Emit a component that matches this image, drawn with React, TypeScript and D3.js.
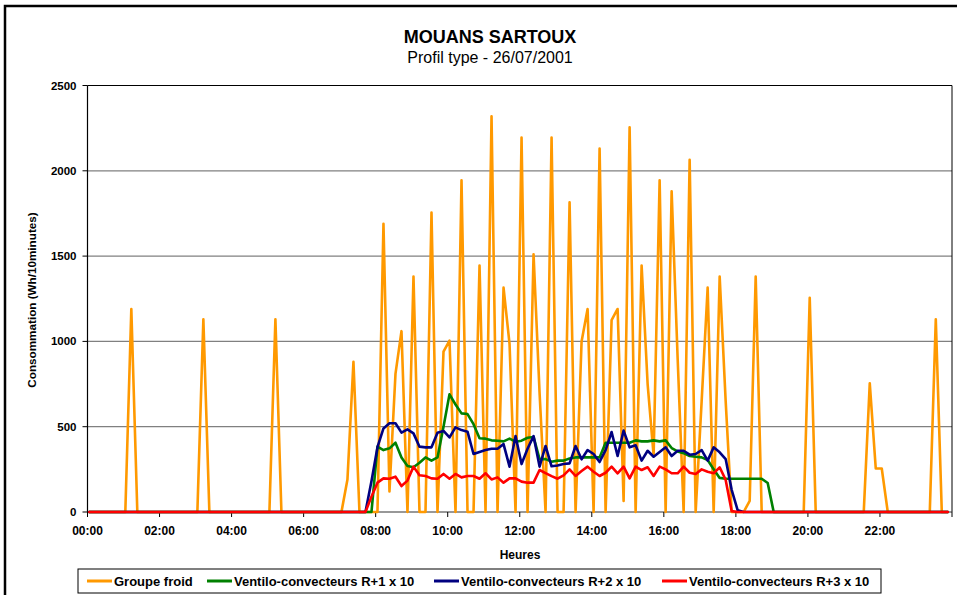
import * as d3 from 'd3';

// 10-minute samples, 144 per day (one row = 2 hours)
const groupeFroid = [
  0, 0, 0, 0, 0, 0, 0, 1190, 0, 0, 0, 0,
  0, 0, 0, 0, 0, 0, 0, 1130, 0, 0, 0, 0,
  0, 0, 0, 0, 0, 0, 0, 1130, 0, 0, 0, 0,
  0, 0, 0, 0, 0, 0, 0, 190, 880, 0, 0, 0,
  0, 1690, 120, 810, 1060, 0, 1380, 0, 0, 1755, 0, 940,
  1005, 0, 1945, 0, 0, 1445, 0, 2320, 0, 1315, 985, 0,
  2195, 0, 1510, 700, 0, 2195, 0, 0, 1815, 0, 1000, 1190,
  0, 2130, 0, 1125, 1190, 65, 2255, 0, 1445, 750, 330, 1945,
  0, 1880, 900, 0, 2065, 0, 650, 1315, 0, 1380, 650, 0,
  0, 0, 65, 1380, 0, 0, 0, 0, 0, 0, 0, 0,
  1255, 0, 0, 0, 0, 0, 0, 0, 0, 0, 755, 255,
  255, 0, 0, 0, 0, 0, 0, 0, 0, 1130, 0, 0,
];

const ventiloR1 = [
  0, 0, 0, 0, 0, 0, 0, 0, 0, 0, 0, 0,
  0, 0, 0, 0, 0, 0, 0, 0, 0, 0, 0, 0,
  0, 0, 0, 0, 0, 0, 0, 0, 0, 0, 0, 0,
  0, 0, 0, 0, 0, 0, 0, 0, 0, 0, 0, 0,
  383, 363, 373, 406, 320, 270, 262, 289, 320, 301, 320, 500,
  690, 630, 578, 574, 515, 432, 430, 420, 418, 414, 430, 412,
  418, 435, 440, 310, 310, 295, 301, 301, 314, 320, 320, 320,
  320, 320, 406, 406, 406, 406, 406, 420, 414, 414, 420, 414,
  420, 375, 355, 345, 328, 324, 320, 305, 250, 200, 195, 195,
  195, 195, 195, 195, 195, 170, 0, 0, 0, 0, 0, 0,
  0, 0, 0, 0, 0, 0, 0, 0, 0, 0, 0, 0,
  0, 0, 0, 0, 0, 0, 0, 0, 0, 0, 0, 0,
];

const ventiloR2 = [
  0, 0, 0, 0, 0, 0, 0, 0, 0, 0, 0, 0,
  0, 0, 0, 0, 0, 0, 0, 0, 0, 0, 0, 0,
  0, 0, 0, 0, 0, 0, 0, 0, 0, 0, 0, 0,
  0, 0, 0, 0, 0, 0, 0, 0, 0, 0, 0, 180,
  380, 490, 520, 520, 465, 484, 461, 383, 379, 379, 465, 475,
  437, 496, 480, 471, 340, 352, 363, 371, 371, 398, 266, 445,
  281, 371, 445, 266, 387, 268, 273, 281, 285, 387, 309, 363,
  340, 293, 363, 469, 328, 477, 379, 391, 301, 359, 324, 352,
  379, 328, 359, 359, 336, 340, 363, 301, 379, 350, 310, 130,
  10, 0, 0, 0, 0, 0, 0, 0, 0, 0, 0, 0,
  0, 0, 0, 0, 0, 0, 0, 0, 0, 0, 0, 0,
  0, 0, 0, 0, 0, 0, 0, 0, 0, 0, 0, 0,
];

const ventiloR3 = [
  0, 0, 0, 0, 0, 0, 0, 0, 0, 0, 0, 0,
  0, 0, 0, 0, 0, 0, 0, 0, 0, 0, 0, 0,
  0, 0, 0, 0, 0, 0, 0, 0, 0, 0, 0, 0,
  0, 0, 0, 0, 0, 0, 0, 0, 0, 0, 0, 90,
  172, 197, 195, 207, 152, 184, 266, 215, 211, 197, 195, 223,
  195, 223, 203, 211, 211, 195, 227, 191, 203, 172, 197, 197,
  178, 172, 172, 246, 228, 210, 195, 215, 250, 211, 240, 266,
  236, 211, 230, 266, 227, 266, 197, 266, 246, 262, 211, 266,
  250, 227, 227, 266, 230, 223, 250, 236, 227, 262, 188, 5,
  0, 0, 0, 0, 0, 0, 0, 0, 0, 0, 0, 0,
  0, 0, 0, 0, 0, 0, 0, 0, 0, 0, 0, 0,
  0, 0, 0, 0, 0, 0, 0, 0, 0, 0, 0, 0,
];

const seriesNames = [
  'Groupe froid',
  'Ventilo-convecteurs R+1 x 10',
  'Ventilo-convecteurs R+2 x 10',
  'Ventilo-convecteurs R+3 x 10',
];
const seriesColors = ['#FF9900', '#008000', '#000080', '#FF0000'];
const yTicks = [0, 500, 1000, 1500, 2000, 2500];
const xTickLabels = ['00:00', '02:00', '04:00', '06:00', '08:00', '10:00', '12:00', '14:00', '16:00', '18:00', '20:00', '22:00'];

// sample i is logged at i*10 min, plus a small offset seen in the plot
const SAMPLE_STEP = 10;
const SAMPLE_OFFSET = 3;

const W = 957;
const H = 595;
const FONT = '"Liberation Sans", Arial, sans-serif';
const LEGEND_X = [87, 207, 434, 662];

export default function App() {
  const x = d3.scaleLinear().domain([0, 1440]).range([87.5, 952]);
  const y = d3.scaleLinear().domain([0, 2500]).range([512, 85.5]);

  const line = d3
    .line<number>()
    .x((_, i) => x(i * SAMPLE_STEP + SAMPLE_OFFSET))
    .y((d) => y(d));

  const series = [groupeFroid, ventiloR1, ventiloR2, ventiloR3];
  const tickMinutes = xTickLabels.map((l) => +l.slice(0, 2) * 60);

  return (
    <svg
      width={W}
      height={H}
      style={{ position: 'absolute', left: 0, top: 0, background: '#fff' }}
      fontFamily={FONT}
    >
      <rect x={5} y={6} width={1000} height={1000} fill='#fff' stroke='#000' strokeWidth={2.5} />

      <text x={490} y={42.5} textAnchor='middle' fontSize={18} fontWeight='bold'>
        MOUANS SARTOUX
      </text>
      <text x={490} y={63} textAnchor='middle' fontSize={16}>
        Profil type - 26/07/2001
      </text>

      {/* gridlines */}
      {yTicks.slice(1, -1).map((t) => (
        <line key={t} x1={x(0)} x2={x(1440)} y1={y(t)} y2={y(t)} stroke='#808080' strokeWidth={1.3} />
      ))}
      {/* plot frame top / right */}
      <line x1={x(0)} x2={x(1440)} y1={y(2500)} y2={y(2500)} stroke='#000' strokeWidth={1} />
      <line x1={x(1440)} x2={x(1440)} y1={y(2500)} y2={y(0)} stroke='#000' strokeWidth={1} />

      {/* axes */}
      <line x1={x(0)} x2={x(0)} y1={y(2500)} y2={y(0)} stroke='#000' strokeWidth={1.2} />
      <line x1={x(0)} x2={x(1440)} y1={y(0)} y2={y(0)} stroke='#333' strokeWidth={1.2} />
      {yTicks.map((t) => (
        <g key={t}>
          <line x1={x(0) - 5} x2={x(0)} y1={y(t)} y2={y(t)} stroke='#000' />
          <text x={x(0) - 11} y={y(t)} dy='0.35em' textAnchor='end' fontSize={11.5} fontWeight='bold'>
            {t}
          </text>
        </g>
      ))}
      {[...tickMinutes, 1440].map((m) => (
        <line key={m} x1={x(m)} x2={x(m)} y1={y(0)} y2={y(0) + 5} stroke='#000' />
      ))}
      {xTickLabels.map((l, i) => (
        <text key={l} x={x(tickMinutes[i])} y={535} textAnchor='middle' fontSize={12} fontWeight='bold'>
          {l}
        </text>
      ))}
      <text x={520} y={559} textAnchor='middle' fontSize={12} fontWeight='bold'>
        Heures
      </text>
      <text
        transform='translate(36, 300) rotate(-90)'
        textAnchor='middle'
        fontSize={11.7}
        fontWeight='bold'
      >
        Consommation (Wh/10minutes)
      </text>

      {/* series */}
      {series.map((s, k) => (
        <path
          key={k}
          d={line(s) ?? ''}
          fill='none'
          stroke={seriesColors[k]}
          strokeWidth={2.6}
          strokeLinejoin='round'
          strokeLinecap='round'
        />
      ))}

      {/* legend */}
      <rect x={78} y={569} width={803} height={24} fill='#fff' stroke='#000' strokeWidth={1} />
      {seriesNames.map((n, k) => (
        <g key={n}>
          <line x1={LEGEND_X[k]} x2={LEGEND_X[k] + 25} y1={581} y2={581} stroke={seriesColors[k]} strokeWidth={3} />
          <text x={LEGEND_X[k] + 27} y={585.5} fontSize={13} fontWeight='bold'>
            {n}
          </text>
        </g>
      ))}
    </svg>
  );
}
